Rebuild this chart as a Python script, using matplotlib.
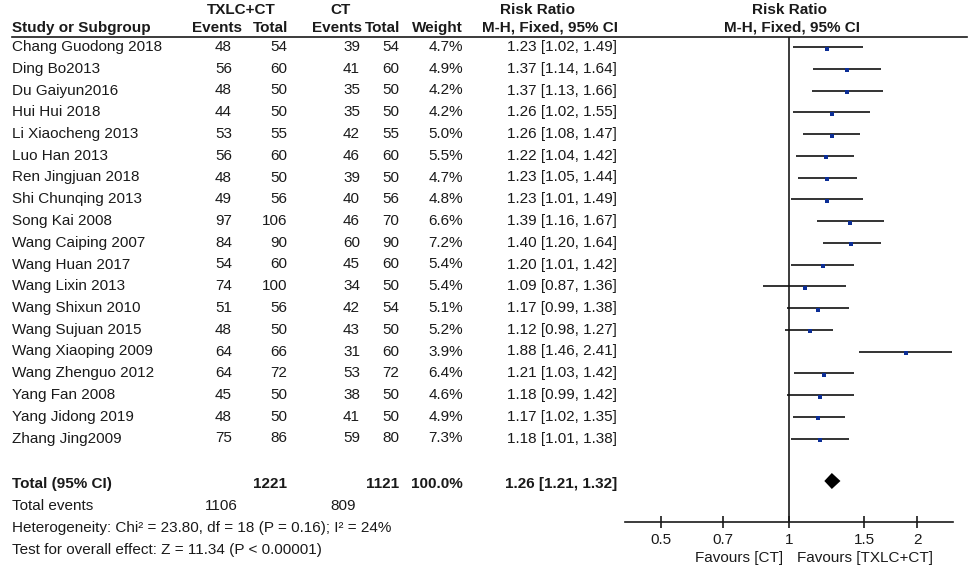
import numpy as np
import matplotlib.pyplot as plt

plt.rcParams['font.family'] = ['Liberation Sans', 'DejaVu Sans']

studies = ['Chang Guodong 2018', 'Ding Bo2013', 'Du Gaiyun2016', 'Hui Hui 2018',
           'Li Xiaocheng 2013', 'Luo Han 2013', 'Ren Jingjuan 2018', 'Shi Chunqing 2013',
           'Song Kai 2008', 'Wang Caiping 2007', 'Wang Huan 2017', 'Wang Lixin 2013',
           'Wang Shixun 2010', 'Wang Sujuan 2015', 'Wang Xiaoping 2009', 'Wang Zhenguo 2012',
           'Yang Fan 2008', 'Yang Jidong 2019', 'Zhang Jing2009']
exp_events = [48, 56, 48, 44, 53, 56, 48, 49, 97, 84, 54, 74, 51, 48, 64, 64, 45, 48, 75]
exp_total = [54, 60, 50, 50, 55, 60, 50, 56, 106, 90, 60, 100, 56, 50, 66, 72, 50, 50, 86]
ctl_events = [39, 41, 35, 35, 42, 46, 39, 40, 46, 60, 45, 34, 42, 43, 31, 53, 38, 41, 59]
ctl_total = [54, 60, 50, 50, 55, 60, 50, 56, 70, 90, 60, 50, 54, 50, 60, 72, 50, 50, 80]
weight = [4.7, 4.9, 4.2, 4.2, 5.0, 5.5, 4.7, 4.8, 6.6, 7.2, 5.4, 5.4, 5.1, 5.2, 3.9, 6.4, 4.6, 4.9, 7.3]
rr = [1.23, 1.37, 1.37, 1.26, 1.26, 1.22, 1.23, 1.23, 1.39, 1.40, 1.20, 1.09, 1.17, 1.12, 1.88, 1.21, 1.18, 1.17, 1.18]
lo = [1.02, 1.14, 1.13, 1.02, 1.08, 1.04, 1.05, 1.01, 1.16, 1.20, 1.01, 0.87, 0.99, 0.98, 1.46, 1.03, 0.99, 1.02, 1.01]
hi = [1.49, 1.64, 1.66, 1.55, 1.47, 1.42, 1.44, 1.49, 1.67, 1.64, 1.42, 1.36, 1.38, 1.27, 2.41, 1.42, 1.42, 1.35, 1.38]

total_exp, total_ctl = 1221, 1121
events_exp, events_ctl = 1106, 809
pooled = (1.26, 1.21, 1.32)
ticks = [0.5, 0.7, 1, 1.5, 2]
tick_labels = ['0.5', '0.7', '1', '1.5', '2']

W, H = 969, 570
fig = plt.figure(figsize=(W / 100, H / 100), dpi=100)
fig.patch.set_facecolor('white')

# text layer in pixel coordinates
tx = fig.add_axes([0, 0, 1, 1])
tx.set_xlim(0, W)
tx.set_ylim(H, 0)
tx.axis('off')

fs = 11
col = '#1a1a1a'
row_y = 47 + 21.75 * np.arange(len(studies))

# headers
tx.text(241, 10, 'TXLC+CT', ha='center', va='center', fontsize=fs, weight='bold', color=col)
tx.text(341, 10, 'CT', ha='center', va='center', fontsize=fs, weight='bold', color=col)
tx.text(538, 10, 'Risk Ratio', ha='center', va='center', fontsize=fs, weight='bold', color=col)
tx.text(790, 10, 'Risk Ratio', ha='center', va='center', fontsize=fs, weight='bold', color=col)
hy = 28
tx.text(12, hy, 'Study or Subgroup', ha='left', va='center', fontsize=fs, weight='bold', color=col)
tx.text(242, hy, 'Events', ha='right', va='center', fontsize=fs, weight='bold', color=col)
tx.text(288, hy, 'Total', ha='right', va='center', fontsize=fs, weight='bold', color=col)
tx.text(362, hy, 'Events', ha='right', va='center', fontsize=fs, weight='bold', color=col)
tx.text(400, hy, 'Total', ha='right', va='center', fontsize=fs, weight='bold', color=col)
tx.text(463, hy, 'Weight', ha='right', va='center', fontsize=fs, weight='bold', color=col)
tx.text(618, hy, 'M-H, Fixed, 95% CI', ha='right', va='center', fontsize=fs, weight='bold', color=col)
tx.text(792, hy, 'M-H, Fixed, 95% CI', ha='center', va='center', fontsize=fs, weight='bold', color=col)
tx.plot([12, 967], [37, 37], color=col, lw=1.2)

for i, name in enumerate(studies):
    y = row_y[i]
    tx.text(12, y, name, ha='left', va='center', fontsize=fs, color=col)
    tx.text(232, y, str(exp_events[i]), ha='right', va='center', fontsize=fs, color=col)
    tx.text(287, y, str(exp_total[i]), ha='right', va='center', fontsize=fs, color=col)
    tx.text(360, y, str(ctl_events[i]), ha='right', va='center', fontsize=fs, color=col)
    tx.text(399, y, str(ctl_total[i]), ha='right', va='center', fontsize=fs, color=col)
    tx.text(463, y, f'{weight[i]:.1f}%', ha='right', va='center', fontsize=fs, color=col)
    tx.text(617, y, f'{rr[i]:.2f} [{lo[i]:.2f}, {hi[i]:.2f}]', ha='right', va='center',
            fontsize=fs, color=col)

ty = 484
tx.text(12, ty, 'Total (95% CI)', ha='left', va='center', fontsize=fs, weight='bold', color=col)
tx.text(287, ty, str(total_exp), ha='right', va='center', fontsize=fs, weight='bold', color=col)
tx.text(399, ty, str(total_ctl), ha='right', va='center', fontsize=fs, weight='bold', color=col)
tx.text(463, ty, '100.0%', ha='right', va='center', fontsize=fs, weight='bold', color=col)
tx.text(617, ty, f'{pooled[0]:.2f} [{pooled[1]:.2f}, {pooled[2]:.2f}]', ha='right', va='center',
        fontsize=fs, weight='bold', color=col)
tx.text(12, 506, 'Total events', ha='left', va='center', fontsize=fs, color=col)
tx.text(238, 506, str(events_exp), ha='right', va='center', fontsize=fs, color=col)
tx.text(356, 506, str(events_ctl), ha='right', va='center', fontsize=fs, color=col)
tx.text(12, 528, 'Heterogeneity: Chi² = 23.80, df = 18 (P = 0.16); I² = 24%', ha='left', va='center',
        fontsize=fs, color=col)
tx.text(12, 550, 'Test for overall effect: Z = 11.34 (P < 0.00001)', ha='left', va='center',
        fontsize=fs, color=col)
tx.text(783, 558, 'Favours [CT]', ha='right', va='center', fontsize=fs, color=col)
tx.text(797, 558, 'Favours [TXLC+CT]', ha='left', va='center', fontsize=fs, color=col)

# forest panel
x0, x1, ytop, ybot = 625, 953, 37, 522
ax = fig.add_axes([x0 / W, (H - ybot) / H, (x1 - x0) / W, (ybot - ytop) / H])
ax.set_facecolor('none')
ax.set_xscale('log')
lim = 2.423
ax.set_xlim(1 / lim, lim)
ax.set_ylim(ybot, ytop)
for s in ['top', 'left', 'right']:
    ax.spines[s].set_visible(False)
ax.spines['bottom'].set_color(col)
ax.spines['bottom'].set_linewidth(1.2)
ax.set_yticks([])
ax.set_xticks(ticks)
ax.set_xticklabels(tick_labels)
ax.minorticks_off()
ax.tick_params(axis='x', direction='inout', length=8, width=1.2, color=col,
               labelsize=fs, labelcolor=col, pad=4)
ax.axvline(1, color=col, lw=1.2)

for i in range(len(studies)):
    y = row_y[i]
    ax.plot([lo[i], hi[i]], [y, y], color='#111111', lw=1.2, solid_capstyle='butt')
    ax.plot(rr[i], y + 1.5, marker='s', ms=2.2 + weight[i] * 0.1, color='#0c2e96',
            mec='#0c2e96', mew=0)

dy = 8
ax.fill([pooled[1], pooled[0], pooled[2], pooled[0]], [481, 481 - dy, 481, 481 + dy],
        color='black', lw=0)

fig.savefig('out.png', dpi=100)
